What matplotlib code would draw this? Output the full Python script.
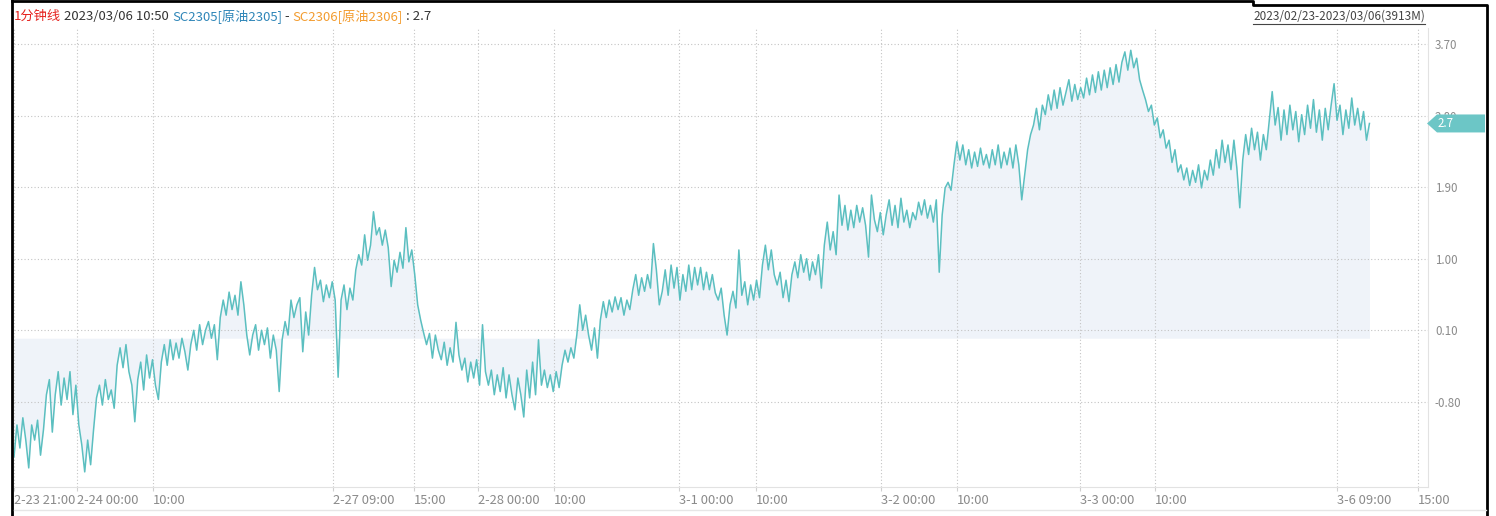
import matplotlib
matplotlib.use("Agg")
import matplotlib.pyplot as plt
import numpy as np
from matplotlib.lines import Line2D
from matplotlib.patches import Polygon
from matplotlib.transforms import blended_transform_factory

# SC2305 - SC2306 spread (left to right)
spread = [
    -1.49, -1.09, -1.38, -1.00, -1.28, -1.63, -1.09, -1.28, -1.03, -1.47, -1.15, -0.71, -0.52, -1.18,
    -0.71, -0.42, -0.84, -0.50, -0.77, -0.42, -0.96, -0.59, -1.09,
    -1.34, -1.68, -1.28, -1.59, -1.15,
    -0.75, -0.59, -0.84, -0.52, -0.77, -0.65, -0.88,
    -0.34, -0.12, -0.37, -0.08, -0.42, -0.59, -1.05,
    -0.52, -0.30, -0.65, -0.21, -0.50, -0.27, -0.59, -0.77,
    -0.30, -0.08, -0.34, -0.02, -0.27, -0.06, -0.25, 0.00, -0.17, -0.40, -0.08,
    0.10, -0.15, 0.17, -0.08, 0.10, 0.21, 0.00, 0.17, -0.27,
    0.26, 0.48, 0.29, 0.58, 0.36, 0.54, 0.29, 0.71, 0.42,
    0.04, -0.21, 0.04, 0.17, -0.15, 0.10, -0.08, 0.13, -0.25, 0.04, -0.15, -0.67,
    -0.02, 0.21, 0.04, 0.48, 0.26, 0.42, 0.51, -0.17, 0.33, 0.04,
    0.54, 0.89, 0.61, 0.73, 0.46, 0.67, 0.51, 0.71, 0.48, -0.49,
    0.48, 0.67, 0.36, 0.63, 0.48, 0.86, 1.05, 0.92, 1.30, 0.98, 1.17, 1.59, 1.30,
    1.39, 1.17, 1.36, 1.14, 0.65, 0.98, 0.83, 1.08, 0.88, 1.39, 0.96, 1.11,
    0.80, 0.42, 0.23, 0.07, -0.08, 0.06, -0.25, 0.04, -0.15,
    -0.27, -0.05, -0.34, -0.12, -0.30, 0.20, -0.21,
    -0.40, -0.25, -0.55, -0.30, -0.50, -0.27, -0.59, 0.17, -0.42,
    -0.59, -0.40, -0.71, -0.46, -0.67, -0.37, -0.75, -0.46, -0.71, -0.90,
    -0.50, -0.71, -0.99, -0.40, -0.75, -0.30, -0.71, -0.02, -0.59,
    -0.40, -0.62, -0.46, -0.67, -0.42, -0.62, -0.34, -0.15, -0.30, -0.12, -0.25,
    0.04, 0.42, 0.10, 0.29, 0.04, -0.15, 0.13, -0.25, 0.23, 0.46, 0.26,
    0.48, 0.33, 0.52, 0.36, 0.51, 0.29, 0.48, 0.36,
    0.61, 0.80, 0.54, 0.76, 0.59, 0.80, 0.63, 1.19, 0.86, 0.42, 0.59,
    0.86, 0.54, 0.92, 0.63, 0.89, 0.48, 0.80, 0.59, 0.92, 0.61, 0.89, 0.67, 0.89, 0.61, 0.83,
    0.61, 0.80, 0.57, 0.48, 0.63, 0.29, 0.04, 0.42, 0.59, 0.38, 1.11,
    0.54, 0.71, 0.42, 0.67, 0.48, 0.73, 0.51, 0.92, 1.17, 0.86, 1.11, 0.80,
    0.67, 0.83, 0.51, 0.73, 0.46, 0.80, 0.96, 0.76, 1.05, 0.83, 1.00, 0.73, 0.96, 0.80, 1.05, 0.63,
    1.17, 1.46, 1.11, 1.34, 1.05,
    1.80, 1.42, 1.67, 1.36, 1.61, 1.39, 1.67, 1.46, 1.64, 1.42, 1.02, 1.80, 1.49, 1.34, 1.58, 1.30,
    1.55, 1.74, 1.42, 1.67, 1.39, 1.76, 1.46, 1.61, 1.39, 1.58,
    1.49, 1.71, 1.55, 1.74, 1.51, 1.67, 1.46, 1.74, 0.83, 1.55, 1.89, 1.96, 1.86,
    2.18, 2.47, 2.24, 2.43, 2.18, 2.37, 2.14, 2.34, 2.16, 2.39, 2.18, 2.31,
    2.14, 2.37, 2.18, 2.43, 2.14, 2.34, 2.18, 2.39, 2.14, 2.43, 2.18, 1.74,
    2.05, 2.37, 2.56, 2.68, 2.89, 2.62, 2.93,
    2.81, 3.06, 2.87, 3.12, 2.89, 3.15, 2.93, 3.09, 3.25, 2.98, 3.19, 3.00, 3.15,
    3.02, 3.27, 3.06, 3.31, 3.09, 3.35, 3.12, 3.37, 3.15, 3.40, 3.19, 3.44, 3.22, 3.47, 3.60, 3.37,
    3.62, 3.40, 3.52, 3.25, 3.12,
    3.00, 2.85, 2.93, 2.68, 2.77, 2.52, 2.62, 2.39, 2.49, 2.21, 2.37,
    2.09, 2.18, 1.99, 2.14, 1.92, 2.11, 1.96, 2.18, 1.89, 2.11, 1.99, 2.24,
    2.05, 2.37, 2.14, 2.49, 2.21, 2.43, 2.12, 2.49, 2.14, 1.64,
    2.24, 2.56, 2.31, 2.64, 2.37, 2.59, 2.24, 2.56, 2.37, 2.74, 3.10, 2.68,
    2.90, 2.49, 2.87, 2.56, 2.93, 2.62, 2.85, 2.47,
    2.81, 2.56, 2.93, 2.64, 3.00, 2.59, 2.87, 2.49, 2.89, 2.62, 2.93, 3.20, 2.74,
    2.93, 2.56, 2.87, 2.64, 3.02, 2.68, 2.89, 2.62, 2.85, 2.49, 2.70,
]
n_minutes = 3913
last_value = 2.7

# minute index of each time label on the bottom axis
tick_minutes = [0, 182, 401, 921, 1154, 1339, 1558, 1919, 2141, 2502, 2721, 3077, 3293, 3818, 4052]
tick_labels = ['2-23 21:00', '2-24 00:00', '10:00', '2-27 09:00', '15:00', '2-28 00:00', '10:00',
               '3-1 00:00', '10:00', '3-2 00:00', '10:00', '3-3 00:00', '10:00', '3-6 09:00', '15:00']
y_ticks = [3.70, 2.80, 1.90, 1.00, 0.10, -0.80]

title_parts = [('1分钟线', '#e5231f'), (' 2023/03/06 10:50 ', '#333333'),
               ('SC2305[原油2305]', '#2f86b8'), (' - ', '#333333'),
               ('SC2306[原油2306]', '#f39c2f'), (' : 2.7', '#333333')]
range_text = '2023/02/23-2023/03/06(3913M)'

plt.rcParams['font.family'] = ['Noto Sans CJK SC', 'DejaVu Sans']

W, H = 1496, 516
fig = plt.figure(figsize=(W / 100, H / 100), dpi=100)
ax = fig.add_axes([14 / W, (H - 487) / H, (1428 - 14) / W, (487 - 28) / H])

x = np.linspace(0, n_minutes - 1, len(spread))
ax.fill_between(x, spread, 0, color='#eff3f9', lw=0, zorder=1)
ax.plot(x, spread, color='#5bbfc0', lw=1.1, zorder=3)

ax.set_xlim(0, 4081)
ax.set_ylim(-1.87, 3.90)
ax.set_yticks(y_ticks)
ax.set_yticklabels(['%.2f' % v for v in y_ticks])
ax.yaxis.tick_right()
ax.set_xticks(tick_minutes)
ax.set_xticklabels(tick_labels, ha='left')
ax.tick_params(axis='y', length=0, pad=5, labelsize=8.3, labelcolor='#8a8a8a')
ax.tick_params(axis='x', length=3, color='#d0d0d0', pad=2, labelsize=9.3, labelcolor='#8a8a8a')
ax.set_axisbelow('line')
ax.grid(True, color='#c4c4c4', linestyle=(0, (1, 2)), lw=0.8)

for side in ['top', 'left']:
    ax.spines[side].set_visible(False)
for side in ['right', 'bottom']:
    ax.spines[side].set_color('#e2e2e2')

# black window frame
frame = dict(color='black', lw=2, transform=fig.transFigure)
fig.add_artist(Line2D([12 / W, 12 / W], [0, 1], **frame))
fig.add_artist(Line2D([12 / W, 1253 / W, 1253 / W, 1487 / W, 1487 / W],
                      [1 - 1 / H, 1 - 1 / H, 1 - 5 / H, 1 - 5 / H, 0], **frame))
fig.add_artist(Line2D([14 / W, 1486 / W], [1 - 510 / H] * 2, color='#e6e6e6', lw=1,
                      transform=fig.transFigure))

# header line, coloured pieces placed one after another
fig.canvas.draw()
renderer = fig.canvas.get_renderer()
xpos = 14 / W
for s, c in title_parts:
    t = fig.text(xpos, 1 - 16 / H, s, color=c, fontsize=9.5, va='center', ha='left')
    xpos += t.get_window_extent(renderer).width / W

rt = fig.text(1425 / W, 1 - 16 / H, range_text, color='#444444', fontsize=8.5, va='center', ha='right')
bb = rt.get_window_extent(renderer)
fig.add_artist(Line2D([bb.x0 / W, bb.x1 / W], [(bb.y0 - 1) / H] * 2, color='#444444', lw=0.8,
                      transform=fig.transFigure))

# last value tag on the price axis
trans = blended_transform_factory(fig.transFigure, ax.transData)
half = 0.113
tag = Polygon([(1427 / W, last_value), (1437 / W, last_value + half), (1485 / W, last_value + half),
               (1485 / W, last_value - half), (1437 / W, last_value - half)],
              closed=True, transform=trans, facecolor='#6cc6c6', edgecolor='none')
fig.add_artist(tag)
fig.text(1438 / W, last_value, '2.7', transform=trans, color='white', fontsize=8.3, va='center', ha='left')

fig.savefig('out.png', dpi=100)
